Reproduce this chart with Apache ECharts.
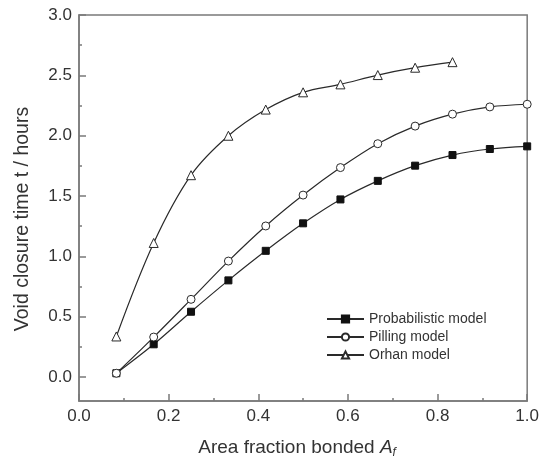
<!DOCTYPE html>
<html>
<head>
<meta charset="utf-8">
<script src="https://cdn.jsdelivr.net/npm/echarts@6/dist/echarts.min.js"></script>
<style>
  html, body { margin: 0; padding: 0; background: #fff; }
  #chart { width: 542px; height: 464px; }
</style>
</head>
<body>
<div id="chart"></div>
<script>
// Area fraction bonded (twelfths from 1/12 to 1)
const areaFraction = [1/12, 2/12, 3/12, 4/12, 5/12, 6/12, 7/12, 8/12, 9/12, 10/12, 11/12, 12/12];

// Void closure time, hours
const probabilistic = [0.03, 0.27, 0.54, 0.80, 1.045, 1.273, 1.471, 1.625, 1.751, 1.839, 1.889, 1.911];
const pilling       = [0.03, 0.33, 0.643, 0.96, 1.251, 1.507, 1.735, 1.933, 2.079, 2.178, 2.238, 2.26];
const orhan         = [0.335, 1.11, 1.672, 1.999, 2.216, 2.359, 2.425, 2.502, 2.563, 2.609];

const seriesNames = ['Probabilistic model', 'Pilling model', 'Orhan model'];

// Axis ticks
const yMajorTicks = [0.0, 0.5, 1.0, 1.5, 2.0, 2.5, 3.0];
const yMinorTicks = [0.25, 0.75, 1.25, 1.75, 2.25, 2.75];

const axisColor = '#7a7a7a';
const textColor = '#333';
const lineColor = '#2a2a2a';
const font = 'Liberation Sans, Arial, sans-serif';

function pairs(xs, ys) {
  return ys.map((y, i) => [xs[i], y]);
}

const chart = echarts.init(document.getElementById('chart'), null, { renderer: 'canvas' });

const baseSeries = {
  type: 'line',
  smooth: 0.35,
  lineStyle: { color: lineColor, width: 1.2 },
  itemStyle: { color: '#fff', borderColor: lineColor, borderWidth: 1 },
  emphasis: { disabled: true },
  animation: false,
  z: 3
};

chart.setOption({
  backgroundColor: '#fff',
  animation: false,
  grid: {
    left: 79, right: 12, top: 15, bottom: 61,
    show: true, borderColor: axisColor, borderWidth: 1.5, backgroundColor: 'transparent'
  },
  legend: {
    orient: 'vertical',
    left: 321, top: 307,
    itemWidth: 37, itemHeight: 9, itemGap: 4,
    textStyle: { fontFamily: font, fontSize: 14, color: textColor },
    data: seriesNames
  },
  xAxis: {
    type: 'value',
    min: 0, max: 1, interval: 0.2,
    name: '{n|Area fraction bonded }{a|A}{s|f}',
    nameLocation: 'middle',
    nameGap: 36,
    nameTextStyle: {
      padding: [0, 12, 0, 0],
      rich: {
        n: { fontFamily: font, fontSize: 19, color: textColor },
        a: { fontFamily: font, fontSize: 19, fontStyle: 'italic', color: textColor },
        s: { fontFamily: font, fontSize: 12, fontStyle: 'italic', color: textColor, padding: [10, 0, 0, 0] }
      }
    },
    axisLine: { show: true, onZero: false, lineStyle: { color: axisColor, width: 1.5 } },
    axisTick: { show: true, inside: true, length: 7, lineStyle: { color: axisColor, width: 1.5 } },
    minorTick: { show: true, splitNumber: 2, length: 3, lineStyle: { color: axisColor, width: 1.5 } },
    axisLabel: {
      fontFamily: font, fontSize: 17, color: textColor, margin: 7,
      formatter: v => v.toFixed(1)
    },
    splitLine: { show: false }
  },
  yAxis: [
    {
      type: 'value',
      min: -0.2, max: 3.0,
      name: 'Void closure time t / hours',
      nameLocation: 'middle',
      nameGap: 46,
      nameTextStyle: { fontFamily: font, fontSize: 19.5, color: textColor, padding: [0, 22, 0, 0] },
      axisLine: { show: true, onZero: false, lineStyle: { color: axisColor, width: 1.5 } },
      axisTick: { show: true, inside: true, length: 7, customValues: yMajorTicks, lineStyle: { color: axisColor, width: 1.5 } },
      axisLabel: {
        fontFamily: font, fontSize: 17, color: textColor, margin: 7,
        customValues: yMajorTicks,
        formatter: v => v.toFixed(1)
      },
      splitLine: { show: false }
    },
    {
      type: 'value',
      position: 'left',
      min: -0.2, max: 3.0,
      axisLine: { show: false, onZero: false },
      axisTick: { show: true, inside: true, length: 3, customValues: yMinorTicks, lineStyle: { color: axisColor, width: 1.5 } },
      axisLabel: { show: false },
      splitLine: { show: false }
    }
  ],
  series: [
    Object.assign({}, baseSeries, {
      name: seriesNames[0],
      data: pairs(areaFraction, probabilistic),
      symbol: 'rect', symbolSize: 7,
      itemStyle: { color: '#111', borderColor: '#111', borderWidth: 1 }
    }),
    Object.assign({}, baseSeries, {
      name: seriesNames[1],
      data: pairs(areaFraction, pilling),
      symbol: 'circle', symbolSize: 8
    }),
    Object.assign({}, baseSeries, {
      name: seriesNames[2],
      data: pairs(areaFraction, orhan),
      symbol: 'triangle', symbolSize: 9
    })
  ]
});
</script>
</body>
</html>
